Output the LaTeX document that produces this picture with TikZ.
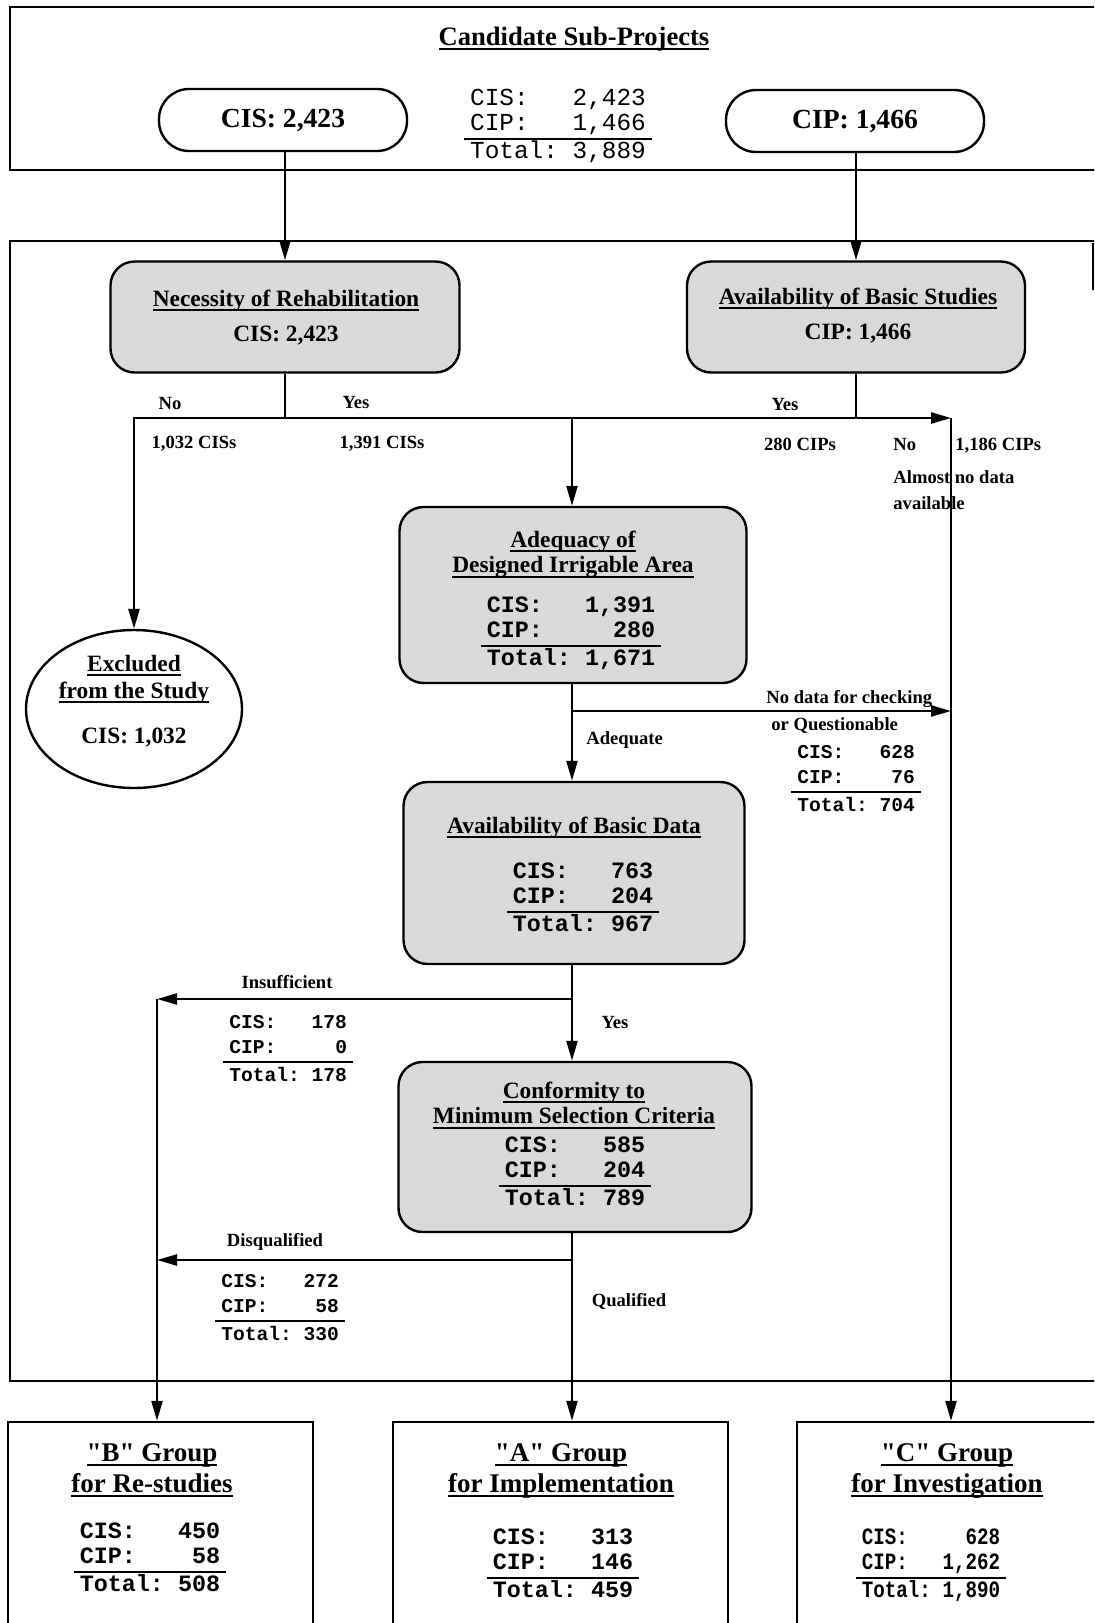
\documentclass[tikz,border=0pt]{standalone}
\usepackage{fontspec}
\setmainfont{Liberation Serif}[Ligatures=TeXOff]
\newfontfamily\tabfont{Liberation Mono}
\newfontfamily\condfont[FakeStretch=0.82]{Liberation Mono}
\setlength{\arrayrulewidth}{1pt}
\usetikzlibrary{arrows.meta,shapes.geometric}

% heavy underline
\newcommand{\ulin}[1]{\setbox0\hbox{#1}\leavevmode\rlap{\rule[-2.6pt]{\wd0}{1pt}}\box0}
% three-row count table, rule above the total
\newcommand{\tally}[3]{\begin{tabular}[t]{@{\hspace{3pt}}l@{\hspace{3pt}}}#1\\#2\\\hline#3\end{tabular}}
% two underlined heading lines
\newcommand{\twoline}[2]{\begin{tabular}[t]{@{}c@{}}\ulin{#1}\\\ulin{#2}\end{tabular}}

\begin{document}
\begin{tikzpicture}[x = 0.5pt, y = -0.5pt,
  frame/.style = {line width = 1.2pt},
  link/.style = {line width = 1.2pt},
  flow/.style = {line width = 1.2pt, -{Triangle[length = 10pt, width = 5.5pt]}},
  topbox/.style = {draw, line width = 1.2pt, rounded corners = 15pt,
                   minimum height = 31pt, font = \bfseries\fontsize{13.8}{15}\selectfont},
  testbox/.style = {draw, line width = 1.2pt, rounded corners = 12pt, fill = black!15},
  groupbox/.style = {draw, line width = 1.2pt},
  head/.style = {anchor = base, inner sep = 0pt, font = \bfseries\fontsize{11.7}{12.75}\selectfont},
  grouphead/.style = {anchor = base, inner sep = 0pt, font = \bfseries\fontsize{13.5}{15.5}\selectfont},
  lbl/.style = {anchor = base, inner sep = 0pt, font = \bfseries\fontsize{9.3}{11}\selectfont},
  bigtab/.style = {anchor = base, inner sep = 0pt, font = \tabfont\bfseries\fontsize{11.7}{12.75}\selectfont},
  smalltab/.style = {anchor = base west, inner sep = 0pt, font = \tabfont\bfseries\fontsize{9.8}{12.75}\selectfont}]

  \useasboundingbox (0, 0) rectangle (1094, 1623);
  \clip (0, 0) rectangle (1094, 1623);

  % frames
  \draw[frame] (10, 7) rectangle (1120, 170);    % candidates
  \draw[frame] (10, 241) rectangle (1120, 1381); % screening
  \draw[frame] (1093, 243) -- (1093, 290);

  % candidate sub-projects
  \node[grouphead, font = \bfseries\fontsize{13.3}{15}\selectfont] (title) at (574, 45) {\ulin{Candidate Sub-Projects}};
  \node[topbox, minimum width = 124pt] (cistop) at (283, 120) {CIS: 2,423};
  \node[topbox, minimum width = 129pt] (ciptop) at (855, 121) {CIP: 1,466};
  \node[anchor = base, inner sep = 0pt, font = \tabfont\fontsize{12.2}{12.75}\selectfont] (alltab) at (558, 105)
    {\tally{CIS:~~~2,423}{CIP:~~~1,466}{Total:~3,889}};

  % first checks
  \node[testbox, minimum width = 174.5pt, minimum height = 55.5pt] (nec) at (285, 317) {};
  \node[head] (nechead) at (286, 306) {\ulin{Necessity of Rehabilitation}};
  \node[head] (necnum) at (286, 341) {CIS: 2,423};
  \node[testbox, minimum width = 169pt, minimum height = 55.5pt] (bstud) at (856, 317) {};
  \node[head] (bstudhead) at (858, 304) {\ulin{Availability of Basic Studies}};
  \node[head] (bstudnum) at (858, 339) {CIP: 1,466};

  \draw[flow] (cistop.south -| nec.north) -- (nec.north);
  \draw[flow] (ciptop.south -| bstud.north) -- (bstud.north);

  \coordinate (jnec) at (285, 418);
  \coordinate (jmid) at (572, 418);
  \coordinate (jcip) at (856, 418);
  \coordinate (cright) at (951, 418);

  \node[lbl] (nolbl) at (170, 409) {No};
  \node[lbl] (yeslbl) at (356, 408) {Yes};
  \node[lbl] (exnum) at (194, 448) {1,032 CISs};
  \node[lbl] (innum) at (382, 448) {1,391 CISs};
  \node[lbl] (yescip) at (785, 410) {Yes};
  \node[lbl] (cipnum) at (800, 450) {280 CIPs};
  \node[lbl, anchor = base west] (nocip) at (893, 450) {No};
  \node[lbl, anchor = base west] (nocipnum) at (955, 450) {1,186 CIPs};
  \node[lbl, anchor = base west] (nodata1) at (893, 483) {Almost no data};
  \node[lbl, anchor = base west] (nodata2) at (893, 509) {available};

  % excluded
  \node[draw, ellipse, line width = 1.2pt, minimum width = 108pt, minimum height = 79pt, inner sep = 0pt] (excl) at (134, 709) {};
  \node[head, font = \bfseries\fontsize{11.7}{13.5}\selectfont] (exhead) at (134, 671) {\twoline{Excluded}{from the Study}};
  \node[head] (exval) at (134, 743) {CIS: 1,032};

  \draw[link] (nec.south) -- (jnec);
  \draw[flow] (jnec) -| (excl.north);
  \draw[link] (jnec) -- (jcip);
  \draw[link] (bstud.south) -- (jcip);
  \draw[flow] (jcip) -- (cright);

  % adequacy of area
  \node[testbox, minimum width = 173.5pt, minimum height = 88pt] (adeq) at (573, 595) {};
  \node[head] (adeqhead) at (573, 547) {\twoline{Adequacy of}{Designed Irrigable Area}};
  \node[bigtab] (adeqtab) at (571, 612) {\tally{CIS:~~~1,391}{CIP:~~~~~280}{Total:~1,671}};
  \draw[flow] (jmid) -- (jmid |- adeq.north);

  \coordinate (jadq) at (572, 711);
  \coordinate (cnodata) at (951, 711);
  \draw[flow] (jadq) -- (cnodata);
  \node[lbl, anchor = base west] (qlbl1) at (766, 703) {No data for checking};
  \node[lbl, anchor = base west] (qlbl2) at (771, 730) {or Questionable};
  \node[lbl, anchor = base west] (adqlbl) at (586, 744) {Adequate};
  \node[smalltab] (qtab) at (791, 758) {\tally{CIS:~~~628}{CIP:~~~~76}{Total:~704}};

  % basic data
  \node[testbox, minimum width = 170.5pt, minimum height = 91pt] (bdata) at (574, 873) {};
  \node[head] (bdatahead) at (574, 833) {\ulin{Availability of Basic Data}};
  \node[bigtab] (bdatatab) at (583, 878) {\tally{CIS:~~~763}{CIP:~~~204}{Total:~967}};
  \draw[flow] (adeq.south -| jmid) -- (jmid |- bdata.north);

  \coordinate (jins) at (572, 999);
  \coordinate (bleft) at (157, 999);
  \coordinate (jdis) at (572, 1260);
  \coordinate (bdis) at (157, 1260);
  \draw[flow] (jins) -- (bleft);
  \node[lbl] (inslbl) at (287, 988) {Insufficient};
  \node[smalltab] (instab) at (223, 1028) {\tally{CIS:~~~178}{CIP:~~~~~0}{Total:~178}};
  \node[lbl] (yesdata) at (615, 1028) {Yes};

  % selection criteria
  \node[testbox, minimum width = 176.5pt, minimum height = 85pt] (conf) at (575, 1147) {};
  \node[head] (confhead) at (574, 1098) {\twoline{Conformity to}{Minimum Selection Criteria}};
  \node[bigtab] (conftab) at (575, 1152) {\tally{CIS:~~~585}{CIP:~~~204}{Total:~789}};
  \draw[flow] (bdata.south -| jmid) -- (jmid |- conf.north);

  \draw[flow] (jdis) -- (bdis);
  \node[lbl] (dislbl) at (275, 1246) {Disqualified};
  \node[smalltab] (distab) at (215, 1287) {\tally{CIS:~~~272}{CIP:~~~~58}{Total:~330}};
  \node[lbl] (qlbl) at (629, 1306) {Qualified};

  % groups
  \node[groupbox, minimum width = 152.5pt, minimum height = 109pt] (bgrp) at (160.5, 1531) {};
  \node[grouphead] (bgrphead) at (152, 1461) {\twoline{"B" Group}{for Re-studies}};
  \node[bigtab] (bgrptab) at (150, 1538) {\tally{CIS:~~~450}{CIP:~~~~58}{Total:~508}};
  \node[groupbox, minimum width = 167.5pt, minimum height = 109pt] (agrp) at (560.5, 1531) {};
  \node[grouphead] (agrphead) at (561, 1461) {\twoline{"A" Group}{for Implementation}};
  \node[bigtab] (agrptab) at (563, 1544) {\tally{CIS:~~~313}{CIP:~~~146}{Total:~459}};
  \node[groupbox, minimum width = 154pt, minimum height = 109pt] (cgrp) at (951, 1531) {};
  \node[grouphead] (cgrphead) at (947, 1461) {\twoline{"C" Group}{for Investigation}};
  \node[bigtab, font = \condfont\bfseries\fontsize{11.7}{12.75}\selectfont] (cgrptab) at (931, 1544)
    {\tally{CIS:~~~~~628}{CIP:~~~1,262}{Total:~1,890}};

  \draw[flow] (bleft) -- (bleft |- bgrp.north);
  \draw[flow] (conf.south -| jmid) -- (jmid |- agrp.north);
  \draw[flow] (cright) -- (cgrp.north);
\end{tikzpicture}
\end{document}
